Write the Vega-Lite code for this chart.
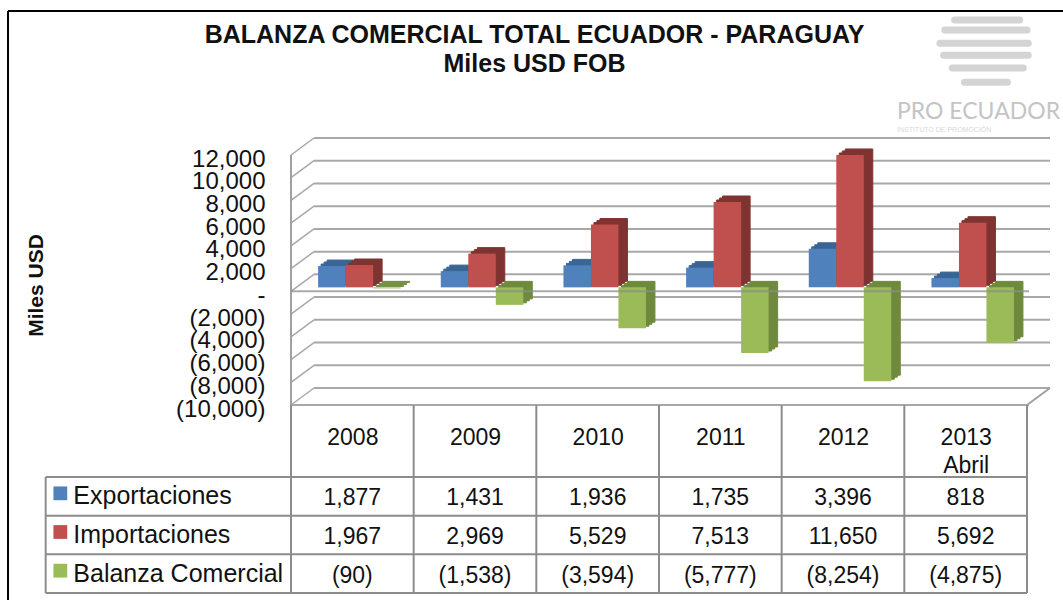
{
"$schema":"https://vega.github.io/schema/vega-lite/v6.json",
"width":1063,"height":600,"padding":0,"autosize":{"type":"none"},
"background":"white",
"config":{"view":{"stroke":null},"font":"Liberation Sans"},
"title":{"text":["BALANZA COMERCIAL  TOTAL ECUADOR  - PARAGUAY","Miles USD FOB"],"anchor":"middle","frame":"group","fontSize":25,"fontWeight":"bold","font":"Liberation Sans","color":"#111111","lineHeight":29,"baseline":"top","dy":77,"dx":3,"offset":0},
"datasets":{
"trade":[
{"year":"2008","series":"Exportaciones","value":1877},{"year":"2009","series":"Exportaciones","value":1431},{"year":"2010","series":"Exportaciones","value":1936},{"year":"2011","series":"Exportaciones","value":1735},{"year":"2012","series":"Exportaciones","value":3396},{"year":"2013 Abril","series":"Exportaciones","value":818},
{"year":"2008","series":"Importaciones","value":1967},{"year":"2009","series":"Importaciones","value":2969},{"year":"2010","series":"Importaciones","value":5529},{"year":"2011","series":"Importaciones","value":7513},{"year":"2012","series":"Importaciones","value":11650},{"year":"2013 Abril","series":"Importaciones","value":5692},
{"year":"2008","series":"Balanza Comercial","value":-90},{"year":"2009","series":"Balanza Comercial","value":-1538},{"year":"2010","series":"Balanza Comercial","value":-3594},{"year":"2011","series":"Balanza Comercial","value":-5777},{"year":"2012","series":"Balanza Comercial","value":-8254},{"year":"2013 Abril","series":"Balanza Comercial","value":-4875}
],
"ticks":[{"v":12000},{"v":10000},{"v":8000},{"v":6000},{"v":4000},{"v":2000},{"v":0},{"v":-2000},{"v":-4000},{"v":-6000},{"v":-8000},{"v":-10000}],
"one":[{"k":1}],
"cols":[{"c":0},{"c":1},{"c":2},{"c":3},{"c":4},{"c":5},{"c":6}],
"rows":[{"r":0},{"r":1},{"r":2},{"r":3}],
"logo":[{"a":5.41,"b":5.94,"l":-11.82},{"a":5.33,"b":6.0,"l":-11.56},{"a":5.29,"b":6.01,"l":-11.22},{"a":5.32,"b":6.01,"l":-10.91},{"a":5.39,"b":5.97,"l":-10.58},{"a":5.49,"b":5.84,"l":-10.21}]
},
"resolve":{"scale":{"x":"independent","y":"independent","color":"independent","xOffset":"independent"}},
"layer":[
{"layer":[
{"data":{"name":"ticks"},"mark":{"type":"rule","color":"#a8a8a8","strokeWidth":2,"xOffset":23,"x2Offset":23,"yOffset":-17},
 "encoding":{"x":{"datum":0,"type":"quantitative","scale":{"domain":[0,6],"range":[291,1027],"zero":false,"nice":false},"axis":null},"x2":{"datum":6},
 "y":{"field":"v","type":"quantitative","scale":{"domain":[-10000,12000],"range":[405,155],"zero":false,"nice":false},
  "axis":{"orient":"left","offset":-265,"values":[12000,10000,8000,6000,4000,2000,0,-2000,-4000,-6000,-8000,-10000],"domain":false,"ticks":false,"grid":false,"labelFontSize":24,"labelColor":"#111111","labelFont":"Liberation Sans","labelPadding":0,"labelOverlap":false,"labelFlush":false,"labelBound":false,"labelOffset":4,
  "labelExpr":"datum.value<0 ? '('+format(-datum.value,',')+')' : datum.value==0 ? '-\u00a0\u00a0\u00a0\u00a0' : format(datum.value,',')+'\u00a0'",
  "title":"Miles USD","titleFontSize":21,"titleFontWeight":"bold","titleColor":"#111111","titleFont":"Liberation Sans","titleAngle":-90,"titleX":-229,"titleY":285,"titleAnchor":"middle","titleAlign":"center","titleBaseline":"middle"}}}},
{"data":{"name":"ticks"},"mark":{"type":"rule","color":"#a8a8a8","strokeWidth":1.5,"x2Offset":23,"y2Offset":-17},
 "encoding":{"x":{"datum":0,"type":"quantitative","scale":{"domain":[0,6],"range":[291,1027],"zero":false,"nice":false},"axis":null},"x2":{"datum":0},
 "y":{"field":"v","type":"quantitative","scale":{"domain":[-10000,12000],"range":[405,155],"zero":false,"nice":false}},"y2":{"field":"v"}}},
{"data":{"name":"one"},"mark":{"type":"rule","color":"#a0a0a0","strokeWidth":2},
 "encoding":{"x":{"datum":0,"type":"quantitative","scale":{"domain":[0,6],"range":[291,1027],"zero":false,"nice":false},"axis":null},
 "y":{"datum":-10000,"type":"quantitative","scale":{"domain":[-10000,12000],"range":[405,155],"zero":false,"nice":false}},"y2":{"datum":12000}}},
{"data":{"name":"one"},"mark":{"type":"rule","color":"#a0a0a0","strokeWidth":2,"x2Offset":23,"y2Offset":-17},
 "encoding":{"x":{"datum":6,"type":"quantitative","scale":{"domain":[0,6],"range":[291,1027],"zero":false,"nice":false},"axis":null},"x2":{"datum":6},
 "y":{"datum":-10000,"type":"quantitative","scale":{"domain":[-10000,12000],"range":[405,155],"zero":false,"nice":false}},"y2":{"datum":-10000}}}
]},
{"data":{"name":"trade"},"mark":{"type":"bar","strokeWidth":1},
 "encoding":{"x":{"field":"year","type":"nominal","sort":null,"axis":null,"scale":{"domain":["2008","2009","2010","2011","2012","2013 Abril"],"range":[307,1043],"paddingInner":0.328,"paddingOuter":0.164}},
 "xOffset":{"field":"series","type":"nominal","sort":null,"scale":{"domain":["Exportaciones","Importaciones","Balanza Comercial"],"range":[0,82.5],"paddingInner":0,"paddingOuter":0}},
 "y":{"field":"value","type":"quantitative","axis":null,"stack":null,"scale":{"domain":[-10000,12000],"range":[395,145],"zero":false,"nice":false}},"y2":{"datum":0},
 "stroke":{"field":"series","type":"nominal","legend":null,"scale":{"domain":["Exportaciones","Importaciones","Balanza Comercial"],"range":["#3a6595","#7f3431","#6f8a3c"]}},
 "color":{"field":"series","type":"nominal","legend":null,"scale":{"domain":["Exportaciones","Importaciones","Balanza Comercial"],"range":["#3a6595","#7f3431","#6f8a3c"]}}}},
{"data":{"name":"trade"},"mark":{"type":"bar","strokeWidth":1},
 "encoding":{"x":{"field":"year","type":"nominal","sort":null,"axis":null,"scale":{"domain":["2008","2009","2010","2011","2012","2013 Abril"],"range":[304,1040],"paddingInner":0.328,"paddingOuter":0.164}},
 "xOffset":{"field":"series","type":"nominal","sort":null,"scale":{"domain":["Exportaciones","Importaciones","Balanza Comercial"],"range":[0,82.5],"paddingInner":0,"paddingOuter":0}},
 "y":{"field":"value","type":"quantitative","axis":null,"stack":null,"scale":{"domain":[-10000,12000],"range":[397,147],"zero":false,"nice":false}},"y2":{"datum":0},
 "stroke":{"field":"series","type":"nominal","legend":null,"scale":{"domain":["Exportaciones","Importaciones","Balanza Comercial"],"range":["#3a6595","#7f3431","#6f8a3c"]}},
 "color":{"field":"series","type":"nominal","legend":null,"scale":{"domain":["Exportaciones","Importaciones","Balanza Comercial"],"range":["#3a6595","#7f3431","#6f8a3c"]}}}},
{"data":{"name":"trade"},"mark":{"type":"bar","strokeWidth":1},
 "encoding":{"x":{"field":"year","type":"nominal","sort":null,"axis":null,"scale":{"domain":["2008","2009","2010","2011","2012","2013 Abril"],"range":[301,1037],"paddingInner":0.328,"paddingOuter":0.164}},
 "xOffset":{"field":"series","type":"nominal","sort":null,"scale":{"domain":["Exportaciones","Importaciones","Balanza Comercial"],"range":[0,82.5],"paddingInner":0,"paddingOuter":0}},
 "y":{"field":"value","type":"quantitative","axis":null,"stack":null,"scale":{"domain":[-10000,12000],"range":[399,149],"zero":false,"nice":false}},"y2":{"datum":0},
 "stroke":{"field":"series","type":"nominal","legend":null,"scale":{"domain":["Exportaciones","Importaciones","Balanza Comercial"],"range":["#3a6595","#7f3431","#6f8a3c"]}},
 "color":{"field":"series","type":"nominal","legend":null,"scale":{"domain":["Exportaciones","Importaciones","Balanza Comercial"],"range":["#3a6595","#7f3431","#6f8a3c"]}}}},
{"data":{"name":"trade"},"mark":{"type":"bar"},
 "encoding":{"x":{"field":"year","type":"nominal","sort":null,"axis":null,"scale":{"domain":["2008","2009","2010","2011","2012","2013 Abril"],"range":[298,1034],"paddingInner":0.328,"paddingOuter":0.164}},
 "xOffset":{"field":"series","type":"nominal","sort":null,"scale":{"domain":["Exportaciones","Importaciones","Balanza Comercial"],"range":[0,82.5],"paddingInner":0,"paddingOuter":0}},
 "y":{"field":"value","type":"quantitative","axis":null,"stack":null,"scale":{"domain":[-10000,12000],"range":[401,151],"zero":false,"nice":false}},"y2":{"datum":0},
 "color":{"field":"series","type":"nominal","legend":null,"scale":{"domain":["Exportaciones","Importaciones","Balanza Comercial"],"range":["#4f81bd","#c0504d","#9bbb59"]}}}},
{"layer":[
{"data":{"name":"one"},"mark":{"type":"rule","color":"#8c8c8c","strokeWidth":2,"opacity":0.75},
 "encoding":{"x":{"datum":0,"type":"quantitative","scale":{"domain":[0,6],"range":[291,1029],"zero":false,"nice":false},"axis":null},"x2":{"datum":6},
 "y":{"datum":0,"type":"quantitative","scale":{"domain":[-10000,12000],"range":[405,155],"zero":false,"nice":false},"axis":null}}},
{"data":{"name":"one"},"mark":{"type":"rule","color":"#a8a8a8","strokeWidth":2},
 "encoding":{"x":{"datum":0,"type":"quantitative","scale":{"domain":[0,6],"range":[291,1029],"zero":false,"nice":false},"axis":null},"x2":{"datum":6},
 "y":{"datum":-10000,"type":"quantitative","scale":{"domain":[-10000,12000],"range":[405,155],"zero":false,"nice":false},"axis":null}}}
]},
{"layer":[
{"data":{"name":"cols"},"mark":{"type":"rule","color":"#8c8c8c","strokeWidth":2},
 "encoding":{"x":{"field":"c","type":"quantitative","scale":{"domain":[0,6],"range":[291,1027],"zero":false,"nice":false},"axis":null},
 "y":{"datum":-1.862,"type":"quantitative","scale":{"domain":[0,3],"range":[477,593],"zero":false,"nice":false},"axis":null},"y2":{"datum":3}}},
{"data":{"name":"rows"},"mark":{"type":"rule","color":"#8c8c8c","strokeWidth":2},
 "encoding":{"x":{"datum":-2,"type":"quantitative","scale":{"domain":[0,6],"range":[291,1027],"zero":false,"nice":false},"axis":null},"x2":{"datum":6},
 "y":{"field":"r","type":"quantitative","scale":{"domain":[0,3],"range":[477,593],"zero":false,"nice":false},"axis":null}}},
{"data":{"name":"one"},"mark":{"type":"rule","color":"#8c8c8c","strokeWidth":2},
 "encoding":{"x":{"datum":-2,"type":"quantitative","scale":{"domain":[0,6],"range":[291,1027],"zero":false,"nice":false},"axis":null},
 "y":{"datum":0,"type":"quantitative","scale":{"domain":[0,3],"range":[477,593],"zero":false,"nice":false},"axis":null},"y2":{"datum":3}}},
{"data":{"name":"one"},"mark":{"type":"rule","color":"#000000","strokeWidth":2},
 "encoding":{"x":{"datum":-2.307,"type":"quantitative","scale":{"domain":[0,6],"range":[291,1027],"zero":false,"nice":false},"axis":null},"x2":{"datum":6.3},
 "y":{"datum":-12.05,"type":"quantitative","scale":{"domain":[0,3],"range":[477,593],"zero":false,"nice":false},"axis":null}}},
{"data":{"name":"one"},"mark":{"type":"rule","color":"#000000","strokeWidth":2},
 "encoding":{"x":{"datum":-2.307,"type":"quantitative","scale":{"domain":[0,6],"range":[291,1027],"zero":false,"nice":false},"axis":null},
 "y":{"datum":-12.05,"type":"quantitative","scale":{"domain":[0,3],"range":[477,593],"zero":false,"nice":false},"axis":null},"y2":{"datum":3.2}}},
{"data":{"name":"logo"},"mark":{"type":"rule","color":"#d4d4d4","strokeWidth":7,"strokeCap":"round"},
 "encoding":{"x":{"field":"a","type":"quantitative","scale":{"domain":[0,6],"range":[291,1027],"zero":false,"nice":false},"axis":null},"x2":{"field":"b"},
 "y":{"field":"l","type":"quantitative","scale":{"domain":[0,3],"range":[477,593],"zero":false,"nice":false},"axis":null}}},
{"data":{"name":"one"},"mark":{"type":"text","text":"PRO ECUADOR","align":"left","baseline":"middle","fontSize":23,"font":"Lato","color":"#c4c4c4"},
 "encoding":{"x":{"datum":4.94,"type":"quantitative","scale":{"domain":[0,6],"range":[291,1027],"zero":false,"nice":false},"axis":null},
 "y":{"datum":-9.44,"type":"quantitative","scale":{"domain":[0,3],"range":[477,593],"zero":false,"nice":false},"axis":null}}},
{"data":{"name":"one"},"mark":{"type":"text","text":"INSTITUTO DE PROMOCIÓN","align":"left","baseline":"middle","fontSize":7,"color":"#d8d8d8"},
 "encoding":{"x":{"datum":4.94,"type":"quantitative","scale":{"domain":[0,6],"range":[291,1027],"zero":false,"nice":false},"axis":null},
 "y":{"datum":-8.97,"type":"quantitative","scale":{"domain":[0,3],"range":[477,593],"zero":false,"nice":false},"axis":null}}}
]},
{"layer":[
{"data":{"name":"trade"},"mark":{"type":"text","fontSize":23,"color":"#111111","baseline":"middle","dy":2},
 "encoding":{"x":{"field":"year","type":"nominal","sort":null,"scale":{"domain":["2008","2009","2010","2011","2012","2013 Abril"],"range":[291,1027],"paddingInner":0,"paddingOuter":0},
  "axis":{"orient":"bottom","offset":-195,"title":null,"domain":false,"ticks":false,"grid":false,"labelAngle":0,"labelFontSize":23,"labelColor":"#111111","labelFont":"Liberation Sans","labelPadding":21,"labelBaseline":"top","labelLineHeight":28,"labelExpr":"split(datum.label,' ')"}},
 "y":{"field":"series","type":"nominal","sort":null,"axis":null,"scale":{"domain":["Exportaciones","Importaciones","Balanza Comercial"],"range":[477,593],"paddingInner":0,"paddingOuter":0}},
 "text":{"field":"value","type":"quantitative","format":"(,"}}},
{"data":{"name":"trade"},"transform":[{"filter":"datum.year=='2008'"}],"mark":{"type":"text","fontSize":25,"color":"#111111","align":"left","baseline":"middle","dx":-279},
 "encoding":{"x":{"datum":"2008","type":"nominal","scale":{"domain":["2008","2009","2010","2011","2012","2013 Abril"],"range":[291,1027],"paddingInner":0,"paddingOuter":0}},
 "y":{"field":"series","type":"nominal","sort":null,"axis":null,"scale":{"domain":["Exportaciones","Importaciones","Balanza Comercial"],"range":[477,593],"paddingInner":0,"paddingOuter":0}},
 "text":{"field":"series","type":"nominal"}}},
{"data":{"name":"trade"},"transform":[{"filter":"datum.year=='2008'"}],"mark":{"type":"point","shape":"square","filled":true,"size":190,"opacity":1,"xOffset":-292,"yOffset":-3},
 "encoding":{"x":{"datum":"2008","type":"nominal","scale":{"domain":["2008","2009","2010","2011","2012","2013 Abril"],"range":[291,1027],"paddingInner":0,"paddingOuter":0}},
 "y":{"field":"series","type":"nominal","sort":null,"axis":null,"scale":{"domain":["Exportaciones","Importaciones","Balanza Comercial"],"range":[477,593],"paddingInner":0,"paddingOuter":0}},
 "color":{"field":"series","type":"nominal","legend":null,"scale":{"domain":["Exportaciones","Importaciones","Balanza Comercial"],"range":["#4f81bd","#c0504d","#9bbb59"]}}}}
]}
]
}
